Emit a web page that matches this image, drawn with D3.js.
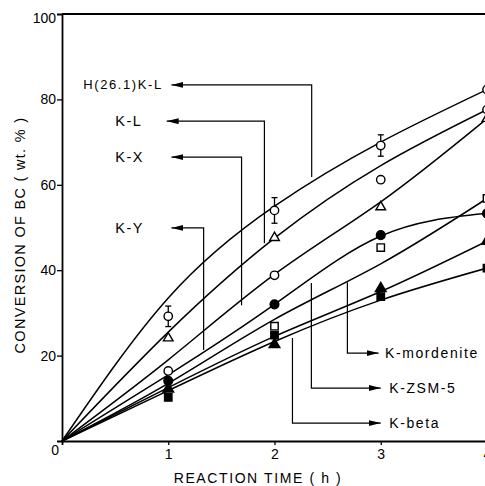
<!DOCTYPE html>
<html>
<head>
<meta charset="utf-8">
<script src="https://cdn.jsdelivr.net/npm/d3@7"></script>
<style>
  html, body { margin: 0; padding: 0; background: #fff; }
  svg { display: block; font-family: "Liberation Sans", Arial, sans-serif; }
</style>
</head>
<body>
<svg id="chart" width="485" height="486"></svg>
<script>
// reaction time (h)
const times = [0, 1, 2, 3, 4];
const sampleTimes = [1, 2, 3, 4];

// fitted curves (conversion, wt.%) read at t = 0..4
const fitH261KL = [0, 33.5, 55, 70, 82.3];
const fitKL = [0, 25.5, 47.5, 64.5, 77.6];
const fitKX = [0, 19, 39, 56, 75.5];
const fitKY = [0, 15.5, 32, 48, 53.3];
const fitMordenite = [0, 13.5, 28.5, 41.5, 56.8];
const fitZSM5 = [0, 12.5, 24.5, 35, 46.8];
const fitBeta = [0, 11.8, 23.3, 33, 40.5];

// measured points at t = 1..4
const ptsH261KL = [29.2, 54.0, 69.2, 82.3];
const errH261KL = [2.4, 3.0, 2.5, 0];
const ptsKL = [24.1, 47.6, 54.8, 75.5];
const ptsKX = [16.4, 38.8, 61.2, 77.6];
const ptsKY = [14.1, 32.0, 48.2, 53.3];
const ptsMordenite = [null, 26.9, 45.3, 56.8];
const ptsZSM5 = [12.2, 22.6, 35.7, 46.8];
const ptsBeta = [10.2, 24.8, 33.8, 40.5];

const yTicks = [0, 20, 40, 60, 80, 100];
const xTicks = [1, 2, 3, 4];

const svg = d3.select("#chart");
const x = d3.scaleLinear().domain([0, 4]).range([62, 487]);
const y = d3.scaleLinear().domain([0, 100]).range([441, 14]);

// axes
const yAxis = svg.append("g")
    .attr("transform", `translate(${x(0)},0)`)
    .call(d3.axisLeft(y).tickValues(yTicks).tickSize(5).tickPadding(1));
const xAxis = svg.append("g")
    .attr("transform", `translate(0,${y(0)})`)
    .call(d3.axisBottom(x).tickValues(xTicks).tickFormat(d3.format("d")).tickSize(4).tickPadding(4));
[yAxis, xAxis].forEach(g => {
    g.select(".domain").attr("stroke-width", 1.8);
    g.selectAll(".tick line").attr("stroke-width", 1.3);
    g.selectAll("text").attr("font-size", 14).attr("fill", "#000")
        .attr("font-family", "Liberation Sans, Arial, sans-serif");
});
yAxis.selectAll(".tick").filter(d => d === 0 || d === 100).select("line").remove();
yAxis.selectAll(".tick").filter(d => d === 0).select("text").attr("x", -3).attr("dy", "0.95em");
yAxis.selectAll(".tick").filter(d => d === 100).select("text").attr("dy", "0.6em");

// top frame line
svg.append("line")
    .attr("x1", x(0)).attr("x2", x(4))
    .attr("y1", y(100)).attr("y2", y(100))
    .attr("stroke", "#000").attr("stroke-width", 1.8);

// axis titles
svg.append("text")
    .attr("x", 258).attr("y", 483)
    .attr("text-anchor", "middle")
    .attr("font-size", 14).attr("letter-spacing", 1.6)
    .text("REACTION TIME ( h )");
svg.append("text")
    .attr("transform", "translate(25,235) rotate(-90)")
    .attr("text-anchor", "middle")
    .attr("font-size", 14.5).attr("letter-spacing", 1.3)
    .text("CONVERSION OF BC ( wt. % )");

// curves
const line = d3.line()
    .x((d, i) => x(times[i]))
    .y(d => y(d))
    .curve(d3.curveNatural);
const fits = [fitH261KL, fitKL, fitKX, fitKY, fitMordenite, fitZSM5, fitBeta];
svg.append("g").selectAll("path")
    .data(fits)
    .join("path")
    .attr("d", line)
    .attr("fill", "none")
    .attr("stroke", "#000")
    .attr("stroke-width", 1.5);

// error bars
const errs = sampleTimes.map((t, i) => ({ t, v: ptsH261KL[i], e: errH261KL[i] })).filter(d => d.e > 0);
const eb = svg.append("g").attr("stroke", "#000").attr("stroke-width", 1.3);
errs.forEach(d => {
    eb.append("line").attr("x1", x(d.t)).attr("x2", x(d.t)).attr("y1", y(d.v - d.e)).attr("y2", y(d.v + d.e));
    [d.v - d.e, d.v + d.e].forEach(v => {
        eb.append("line").attr("x1", x(d.t) - 3).attr("x2", x(d.t) + 3).attr("y1", y(v)).attr("y2", y(v));
    });
});

// markers
const series = [
    { pts: ptsH261KL, type: d3.symbolCircle, size: 55, filled: false },
    { pts: ptsKL, type: d3.symbolTriangle, size: 40, filled: false },
    { pts: ptsKX, type: d3.symbolCircle, size: 55, filled: false },
    { pts: ptsKY, type: d3.symbolCircle, size: 60, filled: true },
    { pts: ptsMordenite, type: d3.symbolSquare, size: 55, filled: false },
    { pts: ptsZSM5, type: d3.symbolTriangle, size: 50, filled: true },
    { pts: ptsBeta, type: d3.symbolSquare, size: 55, filled: true }
];
series.forEach(s => {
    svg.append("g").selectAll("path")
        .data(sampleTimes.map((t, i) => ({ t, v: s.pts[i] })).filter(d => d.v != null))
        .join("path")
        .attr("transform", d => `translate(${x(d.t)},${y(d.v)})`)
        .attr("d", d3.symbol().type(s.type).size(s.size))
        .attr("fill", s.filled ? "#000" : "#fff")
        .attr("stroke", "#000")
        .attr("stroke-width", 1.4);
});

// arrow head
svg.append("defs").append("marker")
    .attr("id", "head")
    .attr("markerUnits", "userSpaceOnUse")
    .attr("markerWidth", 12).attr("markerHeight", 6)
    .attr("refX", 12).attr("refY", 3)
    .attr("orient", "auto")
    .append("path").attr("d", "M0,0L12,3L0,6Z").attr("fill", "#000");

// label callouts: [text, text pos t, arrow level, arrow tip t, stem t, stem end value, font size]
const notes = [
    ["H(26.1)K-L", 0.2, 83.4, 1.03, 2.35, 61.8, 13],
    ["K-L", 0.5, 74.9, 0.985, 1.905, 46.3, 14.5],
    ["K-X", 0.5, 66.5, 1.03, 1.69, 31.8, 14.5],
    ["K-Y", 0.5, 49.9, 1.03, 1.333, 21.3, 14.5],
    ["K-mordenite", 3.04, 20.6, 2.98, 2.686, 37.2, 14],
    ["K-ZSM-5", 3.08, 12.4, 3.0, 2.347, 37.0, 14],
    ["K-beta", 3.08, 4.2, 3.0, 2.169, 24.1, 14]
];
const ng = svg.append("g");
notes.forEach(([name, textT, level, tipT, stemT, stemV, fs]) => {
    ng.append("path")
        .attr("d", `M${x(stemT)},${y(stemV)}V${y(level)}H${x(tipT)}`)
        .attr("fill", "none")
        .attr("stroke", "#000")
        .attr("stroke-width", 1.2)
        .attr("marker-end", "url(#head)");
    ng.append("text")
        .attr("x", x(textT)).attr("y", y(level))
        .attr("dy", "0.35em")
        .attr("font-size", fs)
        .attr("letter-spacing", 1.6)
        .text(name);
});
</script>
</body>
</html>
